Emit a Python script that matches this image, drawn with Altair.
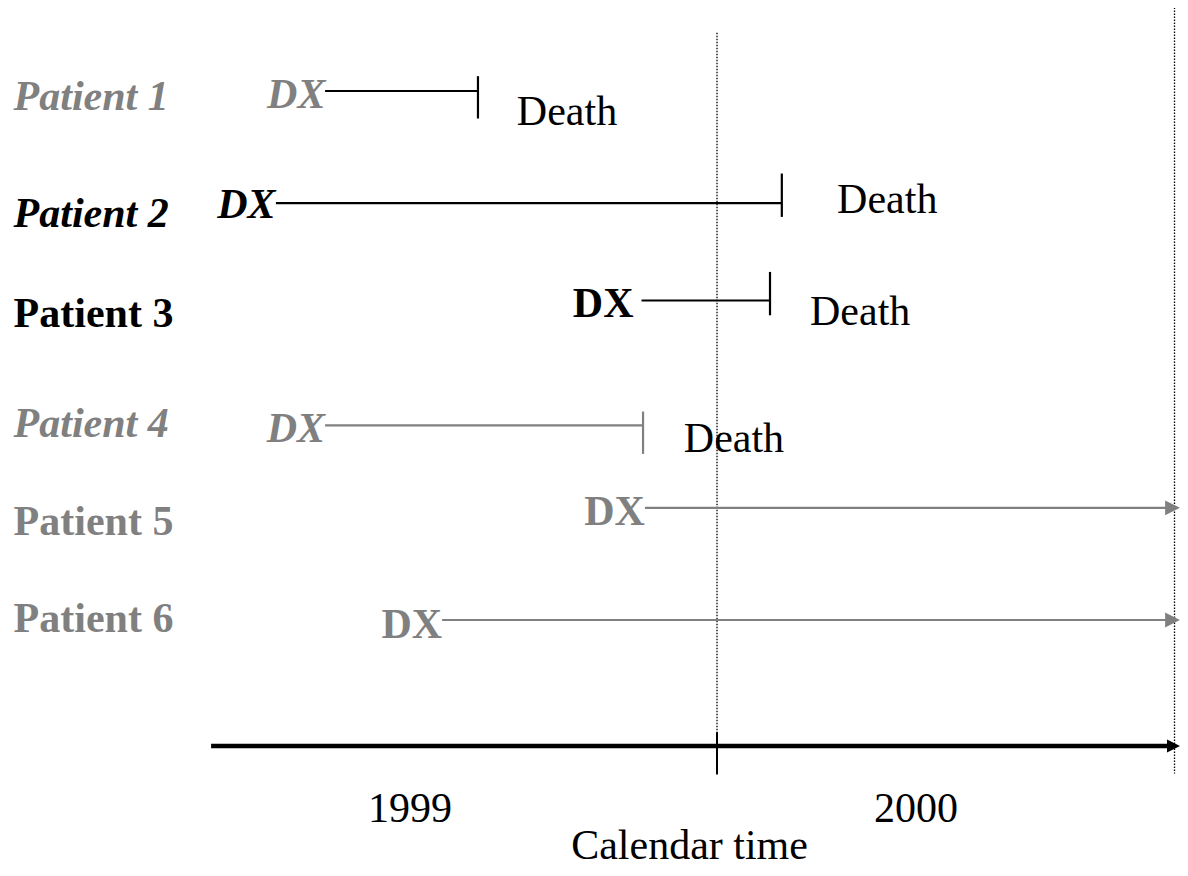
import altair as alt
import pandas as pd

# ---------------- data ----------------
# time axis in months since 1 Jan 1999 (12 = 1 Jan 2000, 24 = 1 Jan 2001)
patients = ["Patient 1", "Patient 2", "Patient 3", "Patient 4", "Patient 5", "Patient 6"]
lane = [1.00, 2.06, 2.98, 4.16, 4.94, 6.00]          # row of each follow-up line
dx_month = [1.72, 0.43, 10.02, 1.72, 10.11, 4.79]    # diagnosis
end_month = [5.73, 13.70, 13.39, 10.06, 24.0, 24.0]  # death or end of study
outcome = ["Death", "Death", "Death", "Death", "Alive", "Alive"]
text_tone = ["muted", "strong", "strong", "muted", "muted", "muted"]
line_tone = ["strong", "strong", "strong", "muted", "muted", "muted"]
typeface = ["bold italic", "bold italic", "bold", "bold italic", "bold", "bold"]

label_lane = [1.18, 2.29, 3.23, 4.27, 5.20, 6.11]
dx_text_month = [1.73, 0.42, 9.81, 1.72, 10.11, 4.79]
dx_text_lane = [1.16, 2.20, 3.14, 4.32, 5.10, 6.17]

death_tick_top = [0.86, 1.78, 2.71, 4.03]
death_tick_bottom = [1.26, 2.19, 3.12, 4.43]
death_text_month = [6.75, 15.15, 14.44, 11.13]
death_text_lane = [1.32, 2.15, 3.21, 4.41]

label_month = -6.45
year_boundaries = [12, 24]
boundary_top = [0.45, 0.21]
boundary_bottom = 7.45
axis_start, axis_lane = -1.27, 7.19
axis_tick_top, axis_tick_bottom = 7.06, 7.46
years = ["1999", "2000"]
year_month = [3.95, 17.22]
year_lane = 7.91
xlabel = "Calendar time"
xlabel_month, xlabel_lane = 11.28, 8.26

# ---------------- scales ----------------
W, H = 1172, 860
FONT = "Liberation Serif"
GRAY = "#808080"
tone_scale = alt.Scale(domain=["strong", "muted"], range=["#000000", GRAY])
xs = alt.Scale(domain=[-6.597, 24.144], nice=False, zero=False)
ys = alt.Scale(domain=[0.2155, 8.344], nice=False, zero=False, reverse=True)
X = lambda f: alt.X(f, type="quantitative", scale=xs, axis=None)
Y = lambda f: alt.Y(f, type="quantitative", scale=ys, axis=None)
CT = alt.Color("text_tone:N", scale=tone_scale, legend=None)
CL = alt.Color("line_tone:N", scale=tone_scale, legend=None)

pts = pd.DataFrame(dict(patient=patients, lane=lane, dx=dx_month, end=end_month,
                        outcome=outcome, text_tone=text_tone, line_tone=line_tone,
                        typeface=typeface, label_lane=label_lane,
                        dx_text=dx_text_month, dx_text_lane=dx_text_lane))
deaths = pts[pts.outcome == "Death"].copy()
deaths["top"] = death_tick_top
deaths["bottom"] = death_tick_bottom
deaths["tx"] = death_text_month
deaths["ty"] = death_text_lane
alive = pts[pts.outcome == "Alive"]

base = alt.Chart(pts)

# dotted year-boundary lines
bounds = pd.DataFrame(dict(x=year_boundaries, top=boundary_top,
                           bottom=[boundary_bottom] * 2))
dotted = alt.Chart(bounds).mark_rule(color="black", strokeWidth=1.3,
                                     strokeDash=[1.5, 1.5]).encode(
    x=X("x"), y=Y("top"), y2="bottom")

# follow-up lines
follow = base.mark_rule(strokeWidth=2.2).encode(
    x=X("dx"), x2="end", y=Y("lane"), color=CL)

ticks = alt.Chart(deaths).mark_rule(strokeWidth=2.2).encode(
    x=X("end"), y=Y("top"), y2="bottom", color=CL)

arrows = alt.Chart(alive).mark_point(
    shape="M1,0L-1,-1L-1,1Z", filled=True, opacity=1, size=220,
    xOffset=-2).encode(x=X("end"), y=Y("lane"), color=CL)

death_text = alt.Chart(deaths).mark_text(
    text="Death", font=FONT, fontSize=42, align="left", baseline="alphabetic",
    color="black").encode(x=X("tx"), y=Y("ty"))


def styled_text(field, xfield, yfield, align):
    layers = []
    for tf in ["bold italic", "bold"]:
        style = "italic" if "italic" in tf else "normal"
        layers.append(
            base.transform_filter(alt.datum.typeface == tf).mark_text(
                font=FONT, fontSize=42, fontWeight="bold", fontStyle=style,
                align=align, baseline="alphabetic").encode(
                x=xfield, y=Y(yfield), text=field + ":N", color=CT))
    return layers


label_layers = [l.transform_calculate(lm=str(label_month)) for l in
                styled_text("patient", X("lm"), "label_lane", "left")]
dx_layers = [l.transform_calculate(dxl="'DX'") for l in
             styled_text("dxl", X("dx_text"), "dx_text_lane", "right")]

# calendar axis
axis_df = pd.DataFrame(dict(x=[axis_start], x2=[24.0], y=[axis_lane]))
axis_line = alt.Chart(axis_df).mark_rule(color="black", strokeWidth=4.5).encode(
    x=X("x"), x2="x2", y=Y("y"))
axis_head = alt.Chart(axis_df).mark_point(
    shape="M1,0L-1,-1L-1,1Z", filled=True, opacity=1, size=170, color="black",
    xOffset=-1).encode(x=X("x2"), y=Y("y"))
tick_df = pd.DataFrame(dict(x=[year_boundaries[0]], top=[axis_tick_top],
                            bottom=[axis_tick_bottom]))
axis_tick = alt.Chart(tick_df).mark_rule(color="black", strokeWidth=2).encode(
    x=X("x"), y=Y("top"), y2="bottom")
year_df = pd.DataFrame(dict(year=years, x=year_month, y=[year_lane] * 2))
year_text = alt.Chart(year_df).mark_text(
    font=FONT, fontSize=42, align="center", baseline="alphabetic",
    color="black").encode(x=X("x"), y=Y("y"), text="year:N")
xl_df = pd.DataFrame(dict(t=[xlabel], x=[xlabel_month], y=[xlabel_lane]))
xl_text = alt.Chart(xl_df).mark_text(
    font=FONT, fontSize=42, align="center", baseline="alphabetic",
    color="black").encode(x=X("x"), y=Y("y"), text="t:N")

chart = alt.layer(
    dotted, follow, ticks, arrows, axis_line, axis_head, axis_tick,
    *label_layers, *dx_layers, death_text, year_text, xl_text
).properties(
    width=W, height=H, padding=0, autosize=alt.AutoSizeParams(type="none")
).configure_view(stroke=None, strokeWidth=0)

chart.save("out.html", embed_options={"renderer": "svg", "actions": False})
